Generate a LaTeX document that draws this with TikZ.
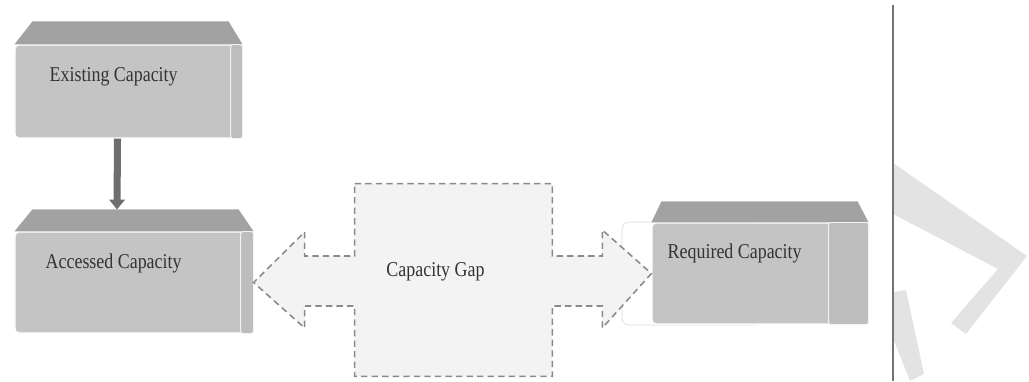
\documentclass[tikz,border=0pt]{standalone}
\usepackage{fontspec}
\setmainfont{Liberation Serif}
\newfontfamily\boxfont{Liberation Serif}[FakeStretch=0.85]
\usetikzlibrary{arrows.meta}

\definecolor{boxgrey}{HTML}{C4C4C4}
\definecolor{lidgrey}{HTML}{A2A2A2}
\definecolor{sidegrey}{HTML}{BDBDBD}
\definecolor{flowgrey}{HTML}{6E6E6E}
\definecolor{dashgrey}{HTML}{8A8A8A}
\definecolor{gapfill}{HTML}{F3F3F3}
\definecolor{markgrey}{HTML}{E3E3E3}
\definecolor{inkgrey}{HTML}{333333}

\begin{document}
\begin{tikzpicture}[
        x=0.025cm, y=-0.025cm,
        face/.style={fill=boxgrey, draw=white, line width=0.8pt, rounded corners=3pt, inner sep=0pt},
        lid/.style={fill=lidgrey},
        side/.style={fill=sidegrey, draw=white!80!boxgrey, line width=0.6pt},
        caption/.style={font=\boxfont\fontsize{15}{17}\selectfont, text=inkgrey, inner sep=0pt},
        flow/.style={draw=flowgrey, line width=5pt, -{Triangle[length=7pt,width=11pt]}},
        gapline/.style={draw=dashgrey, line width=1.1pt, dash pattern=on 4.5pt off 3pt, fill=gapfill},
        divider/.style={draw=black!55, line width=0.8pt},
    ]
    \useasboundingbox (0,0) rectangle (1029,381);

    % watermark behind everything
    \fill[markgrey] (893,163) -- (1027,256) -- (966,334) -- (951,323) -- (998,269) -- (893,214) -- cycle;
    \fill[markgrey] (893,292) -- (906,290) -- (924,374) -- (910,381) -- (893,338) -- cycle;

    % boxes
    \node[face, minimum width=5.675cm, minimum height=2.325cm] (existing) at (128.5,91.5) {};
    \node[face, minimum width=5.95cm, minimum height=2.525cm] (accessed) at (134,282.5) {};
    \draw[draw=black!15, fill=white, rounded corners=5pt] (622,222) rectangle (760,325);
    \node[face, minimum width=5.4cm, minimum height=2.525cm] (required) at (760,273.5) {};

    % lids and sides
    \fill[lid] (existing.north west) -- ++(18,-23) -- ([shift={(-14,-23)}]existing.north east)
        -- (existing.north east) -- cycle;
    \fill[lid] (accessed.north west) -- ++(18,-22) -- ([shift={(-15,-22)}]accessed.north east)
        -- (accessed.north east) -- cycle;
    \fill[lid] (required.north west) -- ++(10,-21) -- ([shift={(-11,-21)}]required.north east)
        -- (required.north east) -- cycle;
    \filldraw[side, rounded corners=2pt] ([shift={(-12,0)}]existing.north east) rectangle (existing.south east);
    \filldraw[side, rounded corners=2pt] ([shift={(-13,0)}]accessed.north east) rectangle (accessed.south east);
    \filldraw[side, rounded corners=2pt] ([shift={(-40,0)}]required.north east) rectangle (required.south east);

    \node[caption, anchor=west] (existingtext) at ([shift={(35,-14.5)}]existing.west) {Existing Capacity};
    \node[caption, anchor=west] (accessedtext) at ([shift={(31,-19.5)}]accessed.west) {Accessed Capacity};
    \node[caption, anchor=west] (requiredtext) at ([shift={(16,-20.5)}]required.west) {Required Capacity};

    % existing -> accessed
    \draw[flow] ([shift={(-11,0)}]existing.south) -- ([shift={(-17,-22)}]accessed.north);

    % gap with its two arrows
    \node[minimum width=4.925cm, minimum height=4.8cm, inner sep=0pt] (gap) at (453.5,280) {};
    \filldraw[gapline] (gap.north west) -- (gap.north east)
        -- ([shift={(0,-24)}]gap.east) -- ++(50,0) -- ++(0,-26) -- (required.west)
        -- ([shift={(50,48)}]gap.east) -- ++(0,-22) -- ([shift={(0,26)}]gap.east)
        -- (gap.south east) -- (gap.south west)
        -- ([shift={(0,26)}]gap.west) -- ++(-50,0) -- ++(0,22) -- (accessed.east)
        -- ([shift={(-50,-48)}]gap.west) -- ++(0,24) -- ([shift={(0,-24)}]gap.west) -- cycle;
    \node[caption] (gaptext) at ([shift={(-18,-8)}]gap.center) {Capacity Gap};

    % page edge
    \coordinate (divtop) at (893,5);
    \coordinate (divbot) at (893,381);
    \draw[divider] (divtop) -- (divbot);
\end{tikzpicture}
\end{document}
